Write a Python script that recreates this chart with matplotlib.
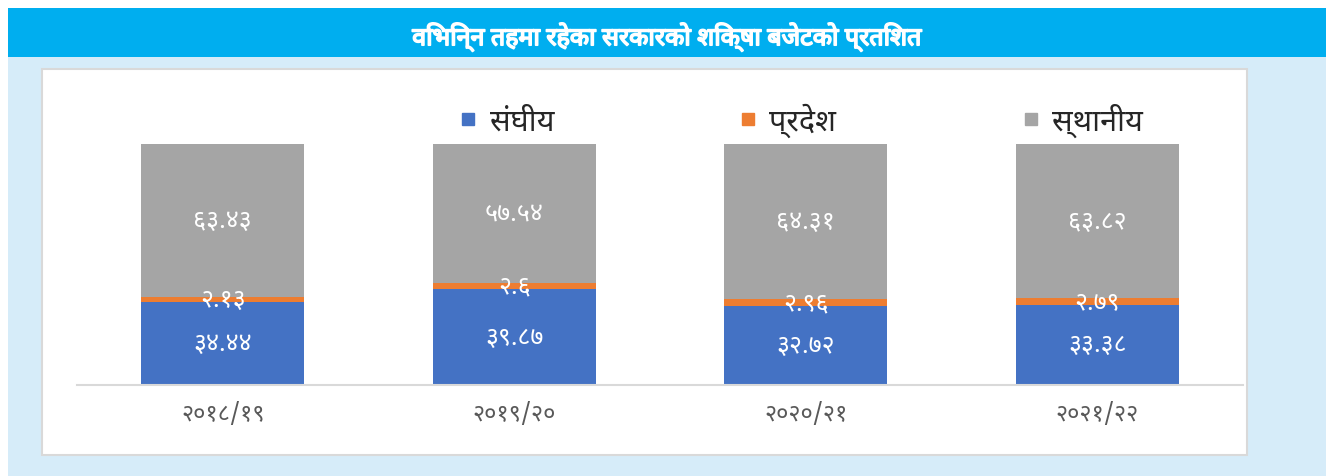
import matplotlib
matplotlib.use("Agg")
import numpy as np
import matplotlib.pyplot as plt
import matplotlib.patheffects as pe
from matplotlib.patches import Rectangle
from matplotlib.lines import Line2D

# data
years = ["२०१८/१९", "२०१९/२०", "२०२०/२१", "२०२१/२२"]
series_names = ["संघीय", "प्रदेश", "स्थानीय"]
federal = [34.44, 39.87, 32.72, 33.38]
province = [2.13, 2.6, 2.96, 2.79]
local = [63.43, 57.54, 64.31, 63.82]
federal_lbl = ["३४.४४", "३९.८७", "३२.७२", "३३.३८"]
province_lbl = ["२.१३", "२.६", "२.९६", "२.७९"]
local_lbl = ["६३.४३", "५७.५४", "६४.३१", "६३.८२"]
title = "विभिन्न तहमा रहेका सरकारको शिक्षा बजेटको प्रतिशत"

colors = ["#4472C4", "#ED7D31", "#A5A5A5"]
deva = ["Noto Sans Devanagari", "Noto Sans", "DejaVu Sans"]
plt.rcParams["font.family"] = deva

W, H = 1326, 477
fig = plt.figure(figsize=(W / 100, H / 100), dpi=100)
fig.patch.set_facecolor("white")

def px_rect(x0, y0, x1, y1, **kw):
    # rectangle in pixel coords (top-left origin)
    fig.patches.append(Rectangle((x0 / W, 1 - y1 / H), (x1 - x0) / W, (y1 - y0) / H,
                                 transform=fig.transFigure, figure=fig, zorder=-5, **kw))

# backgrounds
px_rect(8, 58, W, H, facecolor="#D6ECF9", edgecolor="none")
px_rect(8, 9, W, 58, facecolor="#00AEEF", edgecolor="none")
px_rect(42, 70, 1247, 456, facecolor="white", edgecolor="#D9D9D9", linewidth=1.5)

fig.text(667 / W, 1 - 38 / H, title, color="white", fontsize=18,
         ha="center", va="center",
         path_effects=[pe.withStroke(linewidth=1.2, foreground="white")])

# axes
ax = fig.add_axes([77 / W, 1 - 386 / H, 1166 / W, 241 / H])
ax.set_facecolor("none")
x = np.arange(len(years))
bw = 0.56
b1 = ax.bar(x, federal, bw, color=colors[0], label=series_names[0])
b2 = ax.bar(x, province, bw, bottom=federal, color=colors[1], label=series_names[1])
bottom2 = np.array(federal) + np.array(province)
b3 = ax.bar(x, local, bw, bottom=bottom2, color=colors[2], label=series_names[2])

ax.bar_label(b1, labels=federal_lbl, label_type="center", color="white", fontsize=18)
ax.bar_label(b2, labels=province_lbl, label_type="center", color="white", fontsize=18)
ax.bar_label(b3, labels=local_lbl, label_type="center", color="white", fontsize=18)

ax.set_xlim(-0.5, 3.5)
ax.set_ylim(0, 100)
for s in ["left", "right", "top"]:
    ax.spines[s].set_visible(False)
ax.spines["bottom"].set_color("#D9D9D9")
ax.spines["bottom"].set_linewidth(1.5)
ax.set_yticks([])
ax.set_xticks(x)
ax.set_xticklabels(years, fontsize=17, color="#595959")
ax.tick_params(axis="x", length=0, pad=12)

handles = [Line2D([], [], marker="s", linestyle="none", markersize=9, color=c) for c in colors]
leg = ax.legend(handles, series_names, loc="center left", bbox_to_anchor=((459 - 77) / 1166, 1.10),
                ncol=3, frameon=False, fontsize=22, handlelength=0.6, handletextpad=0.4,
                columnspacing=6.05, borderaxespad=0, borderpad=0)
for t in leg.get_texts():
    t.set_color("#262626")

fig.savefig("out.png", dpi=100)
